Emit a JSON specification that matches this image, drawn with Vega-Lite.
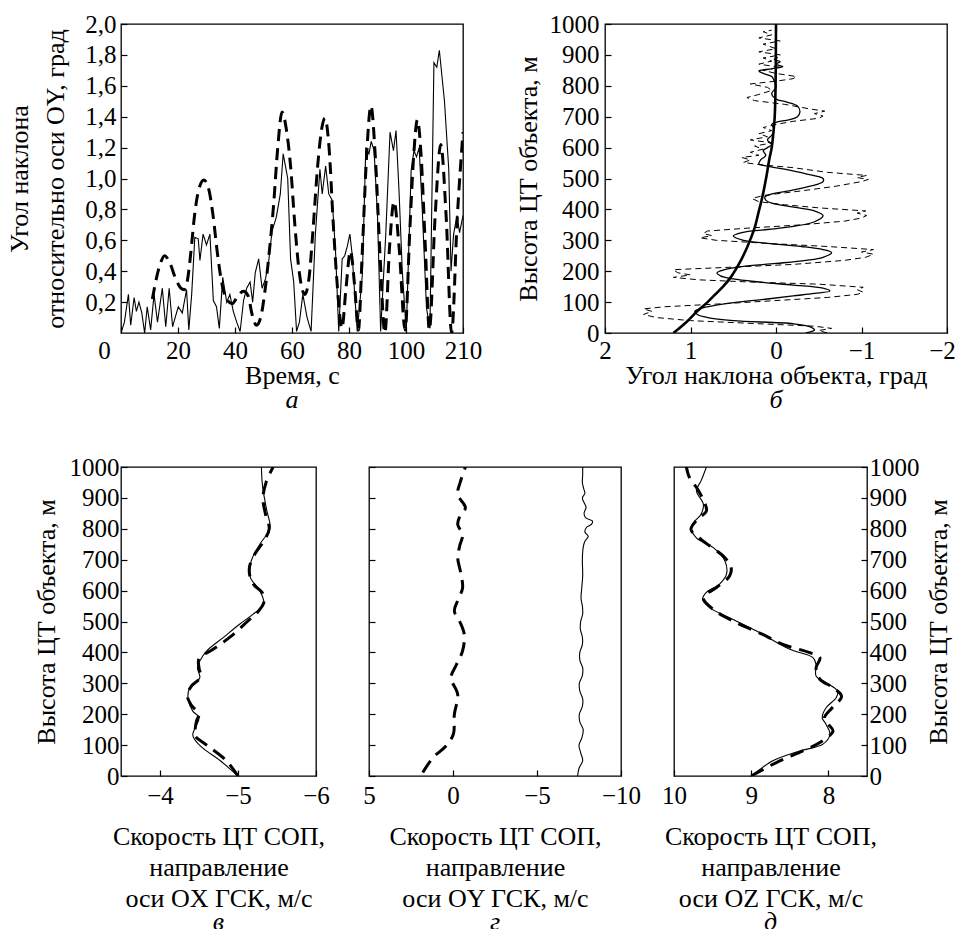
{
  "background": "white",
  "padding": {"left": 6, "top": 11, "right": 0, "bottom": 0},
  "spacing": 40,
  "config": {
    "font": "Liberation Serif, Times New Roman, DejaVu Serif, serif",
    "view": {"stroke": "black", "strokeWidth": 1.3},
    "axis": {"domain": false, "grid": false, "ticks": true, "tickSize": -6, "tickColor": "black", "tickWidth": 1.2,
      "labelFont": "Liberation Serif, Times New Roman, DejaVu Serif, serif", "labelFontSize": 25, "labelColor": "black", "labelPadding": 11,
      "labelOverlap": false, "labelFlush": false, "labelBound": false,
      "titleFont": "Liberation Serif, Times New Roman, DejaVu Serif, serif", "titleFontSize": 26, "titleFontWeight": "normal", "titleColor": "black", "titlePadding": -1, "titleLineHeight": 31},
    "title": {"font": "Liberation Serif, Times New Roman, DejaVu Serif, serif", "fontSize": 26, "fontStyle": "italic", "fontWeight": "normal", "color": "black", "orient": "bottom", "offset": -1}
  },
  "vconcat": [
    {
      "spacing": 142, "bounds": "flush",
      "hconcat": [
        {
          "width": 342, "height": 309,
          "title": {"text": "а", "orient": "bottom"},
          "data": {"values": [
            {"s":"e","t":0,"v":0},{"s":"e","t":1.2,"v":0.07},{"s":"e","t":2.6,"v":0.25},{"s":"e","t":3.4,"v":0.05},{"s":"e","t":4.6,"v":0.23},{"s":"e","t":5.4,"v":0.14},{"s":"e","t":6.3,"v":0.2},{"s":"e","t":7.3,"v":0.13},{"s":"e","t":8.3,"v":0},{"s":"e","t":9.2,"v":0.17},{"s":"e","t":10.4,"v":0.02},{"s":"e","t":11.6,"v":0.25},{"s":"e","t":12.8,"v":0.07},{"s":"e","t":14.5,"v":0.29},{"s":"e","t":15.7,"v":0.04},{"s":"e","t":16.9,"v":0.29},{"s":"e","t":18.1,"v":0.04},{"s":"e","t":19,"v":0.1},{"s":"e","t":20.1,"v":0.17},{"s":"e","t":21.5,"v":0.13},{"s":"e","t":23,"v":0.28},{"s":"e","t":23.8,"v":0.02},{"s":"e","t":24.8,"v":0.25},{"s":"e","t":25.9,"v":0.62},{"s":"e","t":27.1,"v":0.61},{"s":"e","t":27.7,"v":0.47},{"s":"e","t":28.8,"v":0.64},{"s":"e","t":30,"v":0.57},{"s":"e","t":31.2,"v":0.64},{"s":"e","t":32.4,"v":0.21},{"s":"e","t":33.5,"v":0.17},{"s":"e","t":34.5,"v":0.03},{"s":"e","t":35.7,"v":0.36},{"s":"e","t":37.1,"v":0.2},{"s":"e","t":38.2,"v":0.25},{"s":"e","t":39.4,"v":0.14},{"s":"e","t":40.6,"v":0.07},{"s":"e","t":41.8,"v":0.01},{"s":"e","t":43,"v":0.21},{"s":"e","t":44.1,"v":0.29},{"s":"e","t":45.3,"v":0.33},{"s":"e","t":46.2,"v":0.2},{"s":"e","t":47.1,"v":0.39},{"s":"e","t":48.3,"v":0.48},{"s":"e","t":49.5,"v":0.29},{"s":"e","t":50.7,"v":0.35},{"s":"e","t":51.8,"v":0.46},{"s":"e","t":53,"v":0.66},{"s":"e","t":54.5,"v":0.75},{"s":"e","t":55.9,"v":0.9},{"s":"e","t":56.9,"v":1.16},{"s":"e","t":57.7,"v":1.08},{"s":"e","t":58.5,"v":1.0},{"s":"e","t":59.5,"v":0.48},{"s":"e","t":60.6,"v":0.33},{"s":"e","t":61.6,"v":0.01},{"s":"e","t":62.6,"v":0.07},{"s":"e","t":63.8,"v":0.25},{"s":"e","t":65.3,"v":0.1},{"s":"e","t":66.7,"v":0.01},{"s":"e","t":68.2,"v":0.64},{"s":"e","t":69.8,"v":1.06},{"s":"e","t":70.6,"v":0.9},{"s":"e","t":71.8,"v":1.08},{"s":"e","t":72.9,"v":0.9},{"s":"e","t":74.1,"v":0.86},{"s":"e","t":75.3,"v":0.52},{"s":"e","t":76.4,"v":0.01},{"s":"e","t":77.6,"v":0.48},{"s":"e","t":78.5,"v":0.5},{"s":"e","t":79.4,"v":0.56},{"s":"e","t":80.3,"v":0.64},{"s":"e","t":81.1,"v":0.51},{"s":"e","t":82,"v":0.25},{"s":"e","t":82.9,"v":0.01},{"s":"e","t":84.7,"v":0.38},{"s":"e","t":85.9,"v":1.2},{"s":"e","t":87,"v":1.16},{"s":"e","t":87.8,"v":1.24},{"s":"e","t":88.8,"v":1.18},{"s":"e","t":90,"v":0.76},{"s":"e","t":91.1,"v":0.01},{"s":"e","t":92.9,"v":0.64},{"s":"e","t":94.4,"v":1.3},{"s":"e","t":95.6,"v":1.18},{"s":"e","t":96.5,"v":1.31},{"s":"e","t":97.5,"v":0.94},{"s":"e","t":98.7,"v":0.4},{"s":"e","t":100.1,"v":0.01},{"s":"e","t":101.8,"v":1.05},{"s":"e","t":102.8,"v":1.18},{"s":"e","t":103.7,"v":1.14},{"s":"e","t":104.6,"v":1.2},{"s":"e","t":105.7,"v":0.8},{"s":"e","t":107.2,"v":0.16},{"s":"e","t":108.4,"v":0.03},{"s":"e","t":109.8,"v":1.75},{"s":"e","t":110.8,"v":1.72},{"s":"e","t":111.7,"v":1.83},{"s":"e","t":113.5,"v":1.5},{"s":"e","t":115,"v":1.06},{"s":"e","t":115.8,"v":0.4},{"s":"e","t":116.7,"v":0.64},{"s":"e","t":117.9,"v":0.76},{"s":"e","t":118.8,"v":0.65},{"s":"e","t":120,"v":0.76},
            {"s":"m","t":11,"v":0.22},{"s":"m","t":12.5,"v":0.36},{"s":"m","t":14,"v":0.46},{"s":"m","t":15.3,"v":0.5},{"s":"m","t":17,"v":0.46},{"s":"m","t":19,"v":0.36},{"s":"m","t":21,"v":0.29},{"s":"m","t":22.2,"v":0.28},{"s":"m","t":23.3,"v":0.34},{"s":"m","t":24.5,"v":0.52},{"s":"m","t":25.8,"v":0.76},{"s":"m","t":27.3,"v":0.93},{"s":"m","t":29.1,"v":0.99},{"s":"m","t":30.8,"v":0.93},{"s":"m","t":32.3,"v":0.76},{"s":"m","t":33.8,"v":0.52},{"s":"m","t":35.3,"v":0.33},{"s":"m","t":37,"v":0.22},{"s":"m","t":39,"v":0.19},{"s":"m","t":41,"v":0.24},{"s":"m","t":43,"v":0.27},{"s":"m","t":44.6,"v":0.24},{"s":"m","t":46,"v":0.12},{"s":"m","t":47.5,"v":0.05},{"s":"m","t":49,"v":0.1},{"s":"m","t":50.5,"v":0.27},{"s":"m","t":52,"v":0.52},{"s":"m","t":53.5,"v":0.82},{"s":"m","t":55,"v":1.2},{"s":"m","t":56.5,"v":1.43},{"s":"m","t":58,"v":1.32},{"s":"m","t":59.5,"v":1.08},{"s":"m","t":61,"v":0.7},{"s":"m","t":62.5,"v":0.4},{"s":"m","t":64.5,"v":0.25},{"s":"m","t":66,"v":0.36},{"s":"m","t":67.5,"v":0.7},{"s":"m","t":69,"v":1.08},{"s":"m","t":70.5,"v":1.33},{"s":"m","t":71.6,"v":1.39},{"s":"m","t":73,"v":1.2},{"s":"m","t":74.5,"v":0.7},{"s":"m","t":76,"v":0.28},{"s":"m","t":77.5,"v":0.03},{"s":"m","t":79,"v":0.3},{"s":"m","t":80.5,"v":0.53},{"s":"m","t":82,"v":0.3},{"s":"m","t":83.3,"v":0.02},{"s":"m","t":84.6,"v":0.5},{"s":"m","t":86.1,"v":1.12},{"s":"m","t":87.7,"v":1.47},{"s":"m","t":89.3,"v":1.12},{"s":"m","t":90.9,"v":0.5},{"s":"m","t":92.6,"v":0.0},{"s":"m","t":94.2,"v":0.55},{"s":"m","t":95.8,"v":0.85},{"s":"m","t":97.6,"v":0.55},{"s":"m","t":99.7,"v":0.02},{"s":"m","t":101.3,"v":0.65},{"s":"m","t":102.7,"v":1.15},{"s":"m","t":104,"v":1.38},{"s":"m","t":105.3,"v":1.15},{"s":"m","t":106.8,"v":0.55},{"s":"m","t":108.2,"v":0.02},{"s":"m","t":110.2,"v":0.75},{"s":"m","t":112.2,"v":1.22},{"s":"m","t":114.1,"v":0.75},{"s":"m","t":116,"v":0.0},{"s":"m","t":118,"v":0.75},{"s":"m","t":120,"v":1.3}
          ]},
          "encoding": {
            "x": {"field": "t", "type": "quantitative", "scale": {"domain": [0, 120], "nice": false, "zero": false},
              "axis": {"values": [0, 20, 40, 60, 80, 100, 120], "title": "Время, с",
                "labelExpr": "datum.value == 120 ? '210' : datum.label",
                "labelOffset": {"condition": {"test": "datum.value == 0", "value": -17}, "value": 0}}},
            "y": {"field": "v", "type": "quantitative", "scale": {"domain": [0, 2], "nice": false},
              "axis": {"values": [0.2, 0.4, 0.6, 0.8, 1.0, 1.2, 1.4, 1.6, 1.8, 2.0],
                "labelExpr": "replace(format(datum.value, '.1f'), '.', ',')",
                "title": ["Угол наклона", "относительно оси OY, град"], "titleLineHeight": 36, "titlePadding": 16}}
          },
          "layer": [
            {"transform": [{"filter": "datum.s == 'e'"}], "mark": {"type": "line", "color": "black", "strokeWidth": 1.1, "clip": true}},
            {"transform": [{"filter": "datum.s == 'm'"}], "mark": {"type": "line", "color": "black", "strokeWidth": 3, "strokeDash": [12, 7], "interpolate": "monotone", "clip": true}}
          ]
        },
        {
          "width": 342, "height": 309,
          "title": {"text": "б", "orient": "bottom"},
          "data": {"values": [
            {"s":"c","h":0,"x":1.2},{"s":"c","h":35,"x":1.05},{"s":"c","h":71,"x":0.92},{"s":"c","h":100,"x":0.8},{"s":"c","h":125,"x":0.71},{"s":"c","h":150,"x":0.62},{"s":"c","h":180,"x":0.53},{"s":"c","h":230,"x":0.42},{"s":"c","h":276,"x":0.34},{"s":"c","h":303,"x":0.3},{"s":"c","h":340,"x":0.25},{"s":"c","h":384,"x":0.21},{"s":"c","h":440,"x":0.16},{"s":"c","h":510,"x":0.11},{"s":"c","h":560,"x":0.08},{"s":"c","h":600,"x":0.05},{"s":"c","h":650,"x":0.03},{"s":"c","h":700,"x":0.015},{"s":"c","h":800,"x":0.005},{"s":"c","h":1000,"x":0},
            {"s":"s","h":0,"x":-0.35},{"s":"s","h":10,"x":-0.45},{"s":"s","h":20,"x":-0.4},{"s":"s","h":30,"x":-0.2},{"s":"s","h":40,"x":0.5},{"s":"s","h":50,"x":0.8},{"s":"s","h":60,"x":0.92},{"s":"s","h":70,"x":0.95},{"s":"s","h":80,"x":0.88},{"s":"s","h":90,"x":0.7},{"s":"s","h":100,"x":0.45},{"s":"s","h":110,"x":0.1},{"s":"s","h":120,"x":-0.2},{"s":"s","h":128,"x":-0.45},{"s":"s","h":136,"x":-0.63},{"s":"s","h":145,"x":-0.55},{"s":"s","h":155,"x":-0.2},{"s":"s","h":165,"x":0.2},{"s":"s","h":175,"x":0.5},{"s":"s","h":185,"x":0.65},{"s":"s","h":195,"x":0.69},{"s":"s","h":205,"x":0.6},{"s":"s","h":215,"x":0.4},{"s":"s","h":225,"x":0.0},{"s":"s","h":235,"x":-0.35},{"s":"s","h":245,"x":-0.55},{"s":"s","h":260,"x":-0.65},{"s":"s","h":270,"x":-0.55},{"s":"s","h":280,"x":-0.3},{"s":"s","h":290,"x":0.1},{"s":"s","h":300,"x":0.38},{"s":"s","h":314,"x":0.5},{"s":"s","h":325,"x":0.4},{"s":"s","h":335,"x":0.1},{"s":"s","h":345,"x":-0.2},{"s":"s","h":360,"x":-0.45},{"s":"s","h":380,"x":-0.55},{"s":"s","h":395,"x":-0.45},{"s":"s","h":410,"x":-0.15},{"s":"s","h":420,"x":0.05},{"s":"s","h":430,"x":0.12},{"s":"s","h":440,"x":0.13},{"s":"s","h":450,"x":0.05},{"s":"s","h":460,"x":-0.15},{"s":"s","h":475,"x":-0.4},{"s":"s","h":490,"x":-0.55},{"s":"s","h":500,"x":-0.55},{"s":"s","h":515,"x":-0.35},{"s":"s","h":530,"x":-0.1},{"s":"s","h":540,"x":0.1},{"s":"s","h":548,"x":0.2},{"s":"s","h":560,"x":0.18},{"s":"s","h":575,"x":0.12},{"s":"s","h":590,"x":0.15},{"s":"s","h":600,"x":0.1},{"s":"s","h":610,"x":0.05},{"s":"s","h":625,"x":0.1},{"s":"s","h":640,"x":0.05},{"s":"s","h":660,"x":0.02},{"s":"s","h":675,"x":0.05},{"s":"s","h":682,"x":0.0},{"s":"s","h":690,"x":-0.15},{"s":"s","h":700,"x":-0.25},{"s":"s","h":715,"x":-0.28},{"s":"s","h":735,"x":-0.25},{"s":"s","h":748,"x":-0.12},{"s":"s","h":757,"x":0.0},{"s":"s","h":775,"x":0.05},{"s":"s","h":795,"x":0.0},{"s":"s","h":815,"x":0.02},{"s":"s","h":830,"x":0.05},{"s":"s","h":840,"x":0.15},{"s":"s","h":848,"x":0.2},{"s":"s","h":855,"x":0.05},{"s":"s","h":862,"x":-0.08},{"s":"s","h":870,"x":0.0},{"s":"s","h":878,"x":-0.05},{"s":"s","h":885,"x":0.02},{"s":"s","h":892,"x":-0.02},
            {"s":"d","h":0,"x":-0.6},{"s":"d","h":8,"x":-0.5},{"s":"d","h":15,"x":-0.65},{"s":"d","h":22,"x":-0.45},{"s":"d","h":30,"x":0.2},{"s":"d","h":40,"x":1.0},{"s":"d","h":50,"x":1.4},{"s":"d","h":60,"x":1.55},{"s":"d","h":70,"x":1.45},{"s":"d","h":78,"x":1.55},{"s":"d","h":85,"x":1.3},{"s":"d","h":95,"x":0.6},{"s":"d","h":105,"x":0.0},{"s":"d","h":115,"x":-0.6},{"s":"d","h":125,"x":-0.95},{"s":"d","h":132,"x":-1.02},{"s":"d","h":140,"x":-0.95},{"s":"d","h":148,"x":-1.02},{"s":"d","h":158,"x":-0.5},{"s":"d","h":165,"x":0.3},{"s":"d","h":172,"x":0.9},{"s":"d","h":180,"x":1.2},{"s":"d","h":188,"x":1.0},{"s":"d","h":195,"x":1.15},{"s":"d","h":205,"x":1.2},{"s":"d","h":212,"x":0.6},{"s":"d","h":222,"x":-0.2},{"s":"d","h":235,"x":-0.8},{"s":"d","h":245,"x":-1.05},{"s":"d","h":255,"x":-1.14},{"s":"d","h":262,"x":-1.0},{"s":"d","h":270,"x":-1.14},{"s":"d","h":280,"x":-0.6},{"s":"d","h":290,"x":0.1},{"s":"d","h":300,"x":0.7},{"s":"d","h":308,"x":0.89},{"s":"d","h":315,"x":0.75},{"s":"d","h":322,"x":0.85},{"s":"d","h":330,"x":0.8},{"s":"d","h":340,"x":0.3},{"s":"d","h":350,"x":-0.3},{"s":"d","h":362,"x":-0.8},{"s":"d","h":372,"x":-1.0},{"s":"d","h":380,"x":-1.06},{"s":"d","h":388,"x":-0.95},{"s":"d","h":395,"x":-1.05},{"s":"d","h":405,"x":-0.5},{"s":"d","h":415,"x":-0.1},{"s":"d","h":425,"x":0.2},{"s":"d","h":435,"x":0.28},{"s":"d","h":445,"x":0.15},{"s":"d","h":460,"x":-0.3},{"s":"d","h":475,"x":-0.7},{"s":"d","h":490,"x":-1.0},{"s":"d","h":497,"x":-1.08},{"s":"d","h":503,"x":-0.95},{"s":"d","h":510,"x":-1.06},{"s":"d","h":520,"x":-0.6},{"s":"d","h":535,"x":-0.2},{"s":"d","h":545,"x":0.2},{"s":"d","h":552,"x":0.38},{"s":"d","h":560,"x":0.3},{"s":"d","h":568,"x":0.4},{"s":"d","h":575,"x":0.2},{"s":"d","h":585,"x":0.3},{"s":"d","h":595,"x":0.15},{"s":"d","h":605,"x":0.25},{"s":"d","h":615,"x":0.05},{"s":"d","h":625,"x":0.3},{"s":"d","h":635,"x":0.1},{"s":"d","h":645,"x":0.2},{"s":"d","h":655,"x":0.05},{"s":"d","h":665,"x":0.15},{"s":"d","h":675,"x":0.0},{"s":"d","h":685,"x":-0.2},{"s":"d","h":695,"x":-0.5},{"s":"d","h":702,"x":-0.55},{"s":"d","h":710,"x":-0.45},{"s":"d","h":718,"x":-0.57},{"s":"d","h":725,"x":-0.4},{"s":"d","h":740,"x":-0.1},{"s":"d","h":752,"x":0.25},{"s":"d","h":762,"x":0.34},{"s":"d","h":772,"x":0.2},{"s":"d","h":785,"x":0.05},{"s":"d","h":795,"x":0.1},{"s":"d","h":806,"x":0.3},{"s":"d","h":815,"x":0.0},{"s":"d","h":823,"x":-0.2},{"s":"d","h":830,"x":-0.24},{"s":"d","h":840,"x":0.0},{"s":"d","h":850,"x":0.15},{"s":"d","h":860,"x":-0.05},{"s":"d","h":870,"x":0.2},{"s":"d","h":880,"x":0.05},{"s":"d","h":890,"x":0.15},{"s":"d","h":900,"x":-0.05},{"s":"d","h":910,"x":0.2},{"s":"d","h":920,"x":0.0},{"s":"d","h":935,"x":0.15},{"s":"d","h":945,"x":-0.05},{"s":"d","h":955,"x":0.2},{"s":"d","h":965,"x":0.05},{"s":"d","h":975,"x":0.15},{"s":"d","h":980,"x":0.05}
          ]},
          "encoding": {
            "x": {"field": "x", "type": "quantitative", "scale": {"domain": [-2, 2], "reverse": true, "nice": false, "zero": false},
              "axis": {"values": [2, 1, 0, -1, -2], "title": "Угол наклона объекта, град",
                "labelOffset": {"condition": {"test": "datum.value == -2", "value": -5}, "value": 0}}},
            "y": {"field": "h", "type": "quantitative", "scale": {"domain": [0, 1000], "nice": false},
              "axis": {"values": [0, 100, 200, 300, 400, 500, 600, 700, 800, 900, 1000], "format": "d", "labelPadding": 12, "titlePadding": 8, "title": "Высота ЦТ объекта, м"}},
            "order": {"field": "h", "type": "quantitative"}
          },
          "layer": [
            {"transform": [{"filter": "datum.s == 'd'"}], "mark": {"type": "line", "color": "black", "strokeWidth": 1, "strokeDash": [6, 4], "clip": true}},
            {"transform": [{"filter": "datum.s == 's'"}], "mark": {"type": "line", "color": "black", "strokeWidth": 1.3, "interpolate": "catmull-rom", "clip": true}},
            {"transform": [{"filter": "datum.s == 'c'"}], "mark": {"type": "line", "color": "black", "strokeWidth": 2.6, "interpolate": "catmull-rom", "clip": true}}
          ]
        }
      ]
    },
    {
      "spacing": 53, "bounds": "flush",
      "hconcat": [
        {
          "width": 195, "height": 309,
          "title": {"text": "в", "orient": "bottom", "offset": -2},
          "data": {"values": [
            {"s":"s","h":0,"v":-5.0},{"s":"s","h":50,"v":-4.77},{"s":"s","h":90,"v":-4.55},{"s":"s","h":120,"v":-4.44},{"s":"s","h":135,"v":-4.42},{"s":"s","h":160,"v":-4.46},{"s":"s","h":190,"v":-4.5},{"s":"s","h":210,"v":-4.42},{"s":"s","h":250,"v":-4.36},{"s":"s","h":285,"v":-4.38},{"s":"s","h":318,"v":-4.51},{"s":"s","h":350,"v":-4.48},{"s":"s","h":372,"v":-4.51},{"s":"s","h":405,"v":-4.6},{"s":"s","h":448,"v":-4.81},{"s":"s","h":491,"v":-5.02},{"s":"s","h":523,"v":-5.19},{"s":"s","h":556,"v":-5.33},{"s":"s","h":600,"v":-5.28},{"s":"s","h":642,"v":-5.16},{"s":"s","h":696,"v":-5.17},{"s":"s","h":750,"v":-5.28},{"s":"s","h":803,"v":-5.41},{"s":"s","h":858,"v":-5.37},{"s":"s","h":912,"v":-5.33},{"s":"s","h":950,"v":-5.31},{"s":"s","h":1000,"v":-5.3},
            {"s":"d","h":0,"v":-5.0},{"s":"d","h":50,"v":-4.85},{"s":"d","h":100,"v":-4.6},{"s":"d","h":130,"v":-4.45},{"s":"d","h":150,"v":-4.45},{"s":"d","h":180,"v":-4.47},{"s":"d","h":200,"v":-4.5},{"s":"d","h":230,"v":-4.4},{"s":"d","h":260,"v":-4.35},{"s":"d","h":290,"v":-4.4},{"s":"d","h":320,"v":-4.52},{"s":"d","h":350,"v":-4.5},{"s":"d","h":380,"v":-4.5},{"s":"d","h":410,"v":-4.68},{"s":"d","h":450,"v":-4.9},{"s":"d","h":500,"v":-5.12},{"s":"d","h":530,"v":-5.25},{"s":"d","h":560,"v":-5.33},{"s":"d","h":590,"v":-5.32},{"s":"d","h":620,"v":-5.2},{"s":"d","h":650,"v":-5.15},{"s":"d","h":680,"v":-5.15},{"s":"d","h":720,"v":-5.22},{"s":"d","h":760,"v":-5.33},{"s":"d","h":800,"v":-5.4},{"s":"d","h":850,"v":-5.35},{"s":"d","h":900,"v":-5.32},{"s":"d","h":950,"v":-5.36},{"s":"d","h":1000,"v":-5.45}
          ]},
          "encoding": {
            "x": {"field": "v", "type": "quantitative", "scale": {"domain": [-6, -3.5], "reverse": true, "nice": false, "zero": false},
              "axis": {"values": [-4, -5, -6], "labelPadding": 13, "titlePadding": 15, "title": ["Скорость ЦТ СОП,", "направление", "оси OX ГСК, м/с"]}},
            "y": {"field": "h", "type": "quantitative", "scale": {"domain": [0, 1000], "nice": false},
              "axis": {"values": [0, 100, 200, 300, 400, 500, 600, 700, 800, 900, 1000], "format": "d", "labelPadding": 8, "titlePadding": 10, "title": ["", "Высота ЦТ объекта, м"], "titleLineHeight": 9}},
            "order": {"field": "h", "type": "quantitative"}
          },
          "layer": [
            {"transform": [{"filter": "datum.s == 's'"}], "mark": {"type": "line", "color": "black", "strokeWidth": 1.1, "interpolate": "catmull-rom", "clip": true}},
            {"transform": [{"filter": "datum.s == 'd'"}], "mark": {"type": "line", "color": "black", "strokeWidth": 3, "strokeDash": [14, 8], "interpolate": "catmull-rom", "clip": true}}
          ]
        },
        {
          "width": 252, "height": 309,
          "title": {"text": "г", "orient": "bottom", "offset": -2},
          "data": {"values": [
            {"s":"s","h":0,"v":-7.42},{"s":"s","h":25,"v":-7.5},{"s":"s","h":50,"v":-7.72},{"s":"s","h":75,"v":-7.6},{"s":"s","h":100,"v":-7.5},{"s":"s","h":125,"v":-7.68},{"s":"s","h":150,"v":-7.75},{"s":"s","h":175,"v":-7.55},{"s":"s","h":200,"v":-7.52},{"s":"s","h":225,"v":-7.7},{"s":"s","h":250,"v":-7.72},{"s":"s","h":275,"v":-7.55},{"s":"s","h":300,"v":-7.52},{"s":"s","h":325,"v":-7.7},{"s":"s","h":350,"v":-7.72},{"s":"s","h":375,"v":-7.55},{"s":"s","h":400,"v":-7.55},{"s":"s","h":425,"v":-7.7},{"s":"s","h":450,"v":-7.7},{"s":"s","h":475,"v":-7.58},{"s":"s","h":500,"v":-7.6},{"s":"s","h":525,"v":-7.72},{"s":"s","h":550,"v":-7.7},{"s":"s","h":575,"v":-7.62},{"s":"s","h":600,"v":-7.65},{"s":"s","h":650,"v":-7.72},{"s":"s","h":700,"v":-7.7},{"s":"s","h":740,"v":-7.75},{"s":"s","h":760,"v":-7.85},{"s":"s","h":775,"v":-8.05},{"s":"s","h":790,"v":-7.85},{"s":"s","h":805,"v":-7.95},{"s":"s","h":815,"v":-8.25},{"s":"s","h":825,"v":-8.3},{"s":"s","h":835,"v":-7.9},{"s":"s","h":850,"v":-7.8},{"s":"s","h":870,"v":-7.92},{"s":"s","h":885,"v":-7.8},{"s":"s","h":900,"v":-7.7},{"s":"s","h":915,"v":-7.85},{"s":"s","h":930,"v":-7.78},{"s":"s","h":950,"v":-7.7},{"s":"s","h":975,"v":-7.72},{"s":"s","h":1000,"v":-7.72},
            {"s":"d","h":11,"v":1.8},{"s":"d","h":59,"v":1.2},{"s":"d","h":97,"v":0.42},{"s":"d","h":135,"v":-0.02},{"s":"d","h":199,"v":-0.08},{"s":"d","h":264,"v":-0.28},{"s":"d","h":318,"v":0.12},{"s":"d","h":360,"v":-0.2},{"s":"d","h":405,"v":-0.57},{"s":"d","h":458,"v":-0.67},{"s":"d","h":500,"v":-0.4},{"s":"d","h":534,"v":-0.08},{"s":"d","h":570,"v":-0.3},{"s":"d","h":609,"v":-0.57},{"s":"d","h":660,"v":-0.45},{"s":"d","h":706,"v":-0.28},{"s":"d","h":745,"v":-0.4},{"s":"d","h":781,"v":-0.57},{"s":"d","h":814,"v":-0.28},{"s":"d","h":840,"v":-0.4},{"s":"d","h":868,"v":-0.74},{"s":"d","h":911,"v":-0.28},{"s":"d","h":954,"v":-0.45},{"s":"d","h":1000,"v":-0.74}
          ]},
          "encoding": {
            "x": {"field": "v", "type": "quantitative", "scale": {"domain": [-10, 5], "reverse": true, "nice": false, "zero": false},
              "axis": {"values": [5, 0, -5, -10], "labelPadding": 13, "titlePadding": 15, "title": ["Скорость ЦТ СОП,", "направление", "оси OY ГСК, м/с"]}},
            "y": {"field": "h", "type": "quantitative", "scale": {"domain": [0, 1000], "nice": false},
              "axis": {"values": [0, 100, 200, 300, 400, 500, 600, 700, 800, 900, 1000], "labels": false, "title": null}},
            "order": {"field": "h", "type": "quantitative"}
          },
          "layer": [
            {"transform": [{"filter": "datum.s == 's'"}], "mark": {"type": "line", "color": "black", "strokeWidth": 1.1, "interpolate": "catmull-rom", "clip": true}},
            {"transform": [{"filter": "datum.s == 'd'"}], "mark": {"type": "line", "color": "black", "strokeWidth": 3, "strokeDash": [14, 8], "interpolate": "catmull-rom", "clip": true}}
          ]
        },
        {
          "width": 193, "height": 309,
          "title": {"text": "д", "orient": "bottom", "offset": -2},
          "data": {"values": [
            {"s":"s","h":0,"v":9.0},{"s":"s","h":49,"v":8.72},{"s":"s","h":81,"v":8.37},{"s":"s","h":103,"v":8.07},{"s":"s","h":135,"v":7.98},{"s":"s","h":167,"v":8.03},{"s":"s","h":189,"v":8.08},{"s":"s","h":221,"v":8.03},{"s":"s","h":253,"v":7.9},{"s":"s","h":275,"v":7.88},{"s":"s","h":302,"v":8.03},{"s":"s","h":324,"v":8.16},{"s":"s","h":361,"v":8.16},{"s":"s","h":383,"v":8.2},{"s":"s","h":410,"v":8.5},{"s":"s","h":469,"v":8.93},{"s":"s","h":512,"v":9.28},{"s":"s","h":545,"v":9.54},{"s":"s","h":572,"v":9.63},{"s":"s","h":594,"v":9.58},{"s":"s","h":621,"v":9.41},{"s":"s","h":653,"v":9.32},{"s":"s","h":696,"v":9.34},{"s":"s","h":739,"v":9.49},{"s":"s","h":771,"v":9.71},{"s":"s","h":804,"v":9.78},{"s":"s","h":825,"v":9.73},{"s":"s","h":847,"v":9.65},{"s":"s","h":880,"v":9.62},{"s":"s","h":923,"v":9.71},{"s":"s","h":955,"v":9.65},{"s":"s","h":1000,"v":9.58},
            {"s":"d","h":0,"v":9.0},{"s":"d","h":49,"v":8.63},{"s":"d","h":81,"v":8.33},{"s":"d","h":110,"v":8.1},{"s":"d","h":146,"v":7.94},{"s":"d","h":167,"v":8.0},{"s":"d","h":189,"v":8.05},{"s":"d","h":221,"v":7.95},{"s":"d","h":258,"v":7.83},{"s":"d","h":286,"v":7.94},{"s":"d","h":313,"v":8.11},{"s":"d","h":350,"v":8.16},{"s":"d","h":383,"v":8.11},{"s":"d","h":399,"v":8.24},{"s":"d","h":426,"v":8.59},{"s":"d","h":458,"v":8.85},{"s":"d","h":496,"v":9.19},{"s":"d","h":539,"v":9.49},{"s":"d","h":577,"v":9.62},{"s":"d","h":610,"v":9.45},{"s":"d","h":647,"v":9.28},{"s":"d","h":674,"v":9.26},{"s":"d","h":706,"v":9.34},{"s":"d","h":766,"v":9.65},{"s":"d","h":798,"v":9.78},{"s":"d","h":830,"v":9.7},{"s":"d","h":858,"v":9.58},{"s":"d","h":893,"v":9.62},{"s":"d","h":930,"v":9.7},{"s":"d","h":966,"v":9.8},{"s":"d","h":1000,"v":9.84}
          ]},
          "encoding": {
            "x": {"field": "v", "type": "quantitative", "scale": {"domain": [7.5, 10], "reverse": true, "nice": false, "zero": false},
              "axis": {"values": [10, 9, 8], "labelPadding": 13, "titlePadding": 15, "title": ["Скорость ЦТ СОП,", "направление", "оси OZ ГСК, м/с"]}},
            "y": {"field": "h", "type": "quantitative", "scale": {"domain": [0, 1000], "nice": false},
              "axis": {"orient": "right", "values": [0, 100, 200, 300, 400, 500, 600, 700, 800, 900, 1000], "format": "d", "labelPadding": 8, "titlePadding": 6, "title": "Высота ЦТ объекта, м", "titleAngle": 270, "titleBaseline": "top"}},
            "order": {"field": "h", "type": "quantitative"}
          },
          "layer": [
            {"transform": [{"filter": "datum.s == 's'"}], "mark": {"type": "line", "color": "black", "strokeWidth": 1.1, "interpolate": "catmull-rom", "clip": true}},
            {"transform": [{"filter": "datum.s == 'd'"}], "mark": {"type": "line", "color": "black", "strokeWidth": 3, "strokeDash": [14, 8], "interpolate": "catmull-rom", "clip": true}}
          ]
        }
      ]
    }
  ]
}
